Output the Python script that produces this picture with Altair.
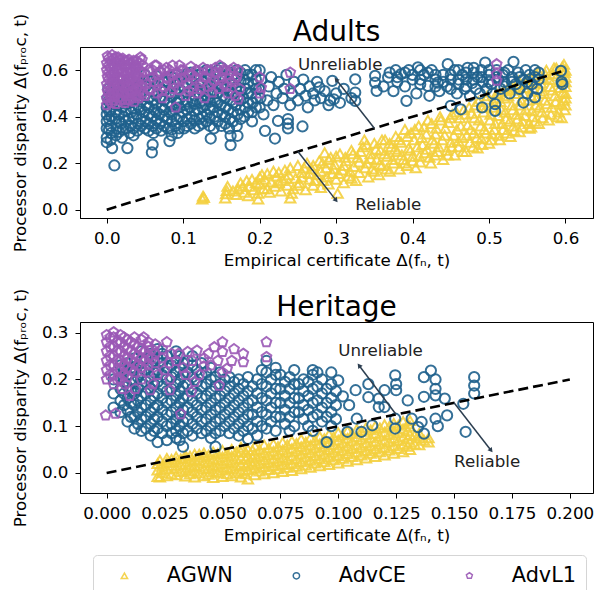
import math
import altair as alt
import pandas as pd

SERIES = ["AGWN", "AdvCE", "AdvL1"]
COLORS = ["#F4D03F", "#1F618D", "#9B59B6"]
PENTAGON = "M0,-1L0.951,-0.309L0.588,0.809L-0.588,0.809L-0.951,-0.309Z"
SHAPES = ["triangle-up", "circle", PENTAGON]

XTITLE = "Empirical certificate Δ(fₙ, t)"
YTITLE = "Processor disparity Δ(fₚᵣₒc, t)"

# ---------------- Adults ----------------
AD_AGWN = [
    (0.125, 0.045), (0.126, 0.058), (0.127, 0.052), (0.155, 0.05), (0.156, 0.068), (0.157, 0.082), (0.158, 0.1),
    (0.17, 0.065), (0.172, 0.09), (0.175, 0.115), (0.18, 0.075), (0.185, 0.06), (0.187, 0.1), (0.19, 0.13),
    (0.192, 0.085), (0.198, 0.046), (0.198, 0.07), (0.2, 0.11), (0.203, 0.15), (0.205, 0.09), (0.207, 0.13),
    (0.213, 0.075), (0.215, 0.12), (0.218, 0.165), (0.22, 0.1), (0.222, 0.145), (0.228, 0.08), (0.23, 0.125),
    (0.233, 0.17), (0.236, 0.105), (0.238, 0.15), (0.24, 0.05), (0.244, 0.09), (0.247, 0.135), (0.25, 0.19),
    (0.252, 0.115), (0.255, 0.16), (0.26, 0.085), (0.262, 0.2), (0.265, 0.13), (0.268, 0.175), (0.27, 0.105),
    (0.275, 0.15), (0.278, 0.21), (0.28, 0.095), (0.283, 0.125), (0.285, 0.245), (0.287, 0.18), (0.29, 0.11),
    (0.293, 0.225), (0.295, 0.155), (0.298, 0.195), (0.3, 0.13), (0.302, 0.07), (0.305, 0.24), (0.308, 0.17),
    (0.31, 0.115), (0.313, 0.21), (0.316, 0.145), (0.32, 0.255), (0.323, 0.185), (0.326, 0.125), (0.328, 0.225),
    (0.33, 0.16), (0.335, 0.27), (0.337, 0.3), (0.34, 0.2), (0.342, 0.14), (0.345, 0.24), (0.347, 0.175),
    (0.35, 0.285), (0.353, 0.215), (0.356, 0.15), (0.358, 0.255), (0.36, 0.19), (0.364, 0.3), (0.367, 0.23),
    (0.37, 0.165), (0.372, 0.27), (0.375, 0.2), (0.378, 0.315), (0.38, 0.25), (0.383, 0.175), (0.385, 0.29),
    (0.388, 0.215), (0.39, 0.345), (0.393, 0.19), (0.395, 0.265), (0.398, 0.33), (0.4, 0.23), (0.402, 0.3),
    (0.404, 0.18), (0.408, 0.36), (0.41, 0.205), (0.413, 0.28), (0.416, 0.245), (0.418, 0.325), (0.42, 0.385),
    (0.424, 0.2), (0.426, 0.3), (0.429, 0.235), (0.431, 0.35), (0.434, 0.27), (0.436, 0.4), (0.44, 0.215),
    (0.442, 0.32), (0.445, 0.255), (0.447, 0.375), (0.45, 0.29), (0.452, 0.41), (0.455, 0.235), (0.458, 0.345),
    (0.46, 0.27), (0.462, 0.395), (0.465, 0.31), (0.467, 0.43), (0.47, 0.25), (0.472, 0.365), (0.475, 0.29),
    (0.477, 0.415), (0.48, 0.33), (0.482, 0.45), (0.485, 0.265), (0.487, 0.385), (0.49, 0.305), (0.492, 0.44),
    (0.494, 0.345), (0.496, 0.475), (0.5, 0.285), (0.502, 0.41), (0.504, 0.325), (0.506, 0.46), (0.508, 0.37),
    (0.51, 0.5), (0.514, 0.3), (0.516, 0.43), (0.518, 0.345), (0.52, 0.48), (0.522, 0.39), (0.524, 0.52),
    (0.528, 0.315), (0.53, 0.45), (0.532, 0.36), (0.534, 0.5), (0.536, 0.41), (0.538, 0.54), (0.54, 0.335),
    (0.542, 0.47), (0.544, 0.38), (0.546, 0.525), (0.548, 0.43), (0.55, 0.56), (0.553, 0.35), (0.555, 0.49),
    (0.557, 0.4), (0.559, 0.545), (0.561, 0.45), (0.563, 0.58), (0.565, 0.37), (0.567, 0.51), (0.569, 0.42),
    (0.571, 0.565), (0.573, 0.47), (0.575, 0.6), (0.578, 0.385), (0.58, 0.53), (0.582, 0.44), (0.584, 0.585),
    (0.586, 0.49), (0.588, 0.61), (0.59, 0.4), (0.592, 0.55), (0.594, 0.455), (0.595, 0.6), (0.597, 0.505),
    (0.598, 0.625), (0.599, 0.43), (0.6, 0.57), (0.6, 0.48), (0.6, 0.53), (0.555, 0.355), (0.595, 0.395),
    (0.165, 0.08), (0.178, 0.1), (0.183, 0.125), (0.195, 0.115), (0.2, 0.14), (0.21, 0.09), (0.21, 0.155),
    (0.225, 0.115), (0.225, 0.16), (0.235, 0.135), (0.24, 0.18), (0.242, 0.07), (0.25, 0.105), (0.255, 0.14),
    (0.258, 0.18), (0.265, 0.155), (0.27, 0.19), (0.272, 0.125), (0.28, 0.165), (0.282, 0.2), (0.288, 0.14),
    (0.29, 0.215), (0.297, 0.175), (0.3, 0.23), (0.303, 0.155), (0.31, 0.19), (0.312, 0.225), (0.318, 0.165),
    (0.32, 0.135), (0.322, 0.24), (0.33, 0.205), (0.332, 0.25), (0.338, 0.18), (0.34, 0.28), (0.345, 0.22),
    (0.35, 0.165), (0.352, 0.26), (0.357, 0.195), (0.36, 0.3), (0.363, 0.24), (0.366, 0.175), (0.37, 0.285),
    (0.374, 0.215), (0.377, 0.26), (0.382, 0.3), (0.386, 0.235), (0.39, 0.2), (0.393, 0.315), (0.397, 0.255),
    (0.4, 0.21), (0.403, 0.345), (0.406, 0.27), (0.409, 0.23), (0.412, 0.31), (0.415, 0.355), (0.419, 0.26),
    (0.422, 0.225), (0.425, 0.37), (0.428, 0.285), (0.43, 0.325), (0.433, 0.25), (0.437, 0.385), (0.439, 0.3),
    (0.443, 0.35), (0.446, 0.235), (0.449, 0.395), (0.451, 0.27), (0.454, 0.32), (0.457, 0.42), (0.46, 0.295),
    (0.463, 0.36), (0.466, 0.25), (0.469, 0.41), (0.471, 0.32), (0.474, 0.44), (0.476, 0.345), (0.479, 0.27),
    (0.481, 0.395), (0.484, 0.31), (0.486, 0.465), (0.489, 0.36), (0.491, 0.28), (0.493, 0.42), (0.496, 0.33),
    (0.498, 0.49), (0.501, 0.385), (0.503, 0.3), (0.505, 0.44), (0.507, 0.345), (0.509, 0.48), (0.512, 0.405),
    (0.513, 0.32), (0.515, 0.465), (0.517, 0.37), (0.519, 0.51), (0.521, 0.42), (0.523, 0.33), (0.525, 0.49),
    (0.527, 0.38), (0.529, 0.53), (0.531, 0.43), (0.533, 0.34), (0.535, 0.515), (0.537, 0.39), (0.539, 0.555),
    (0.541, 0.45), (0.543, 0.355), (0.545, 0.5), (0.547, 0.405), (0.549, 0.54), (0.551, 0.47), (0.552, 0.37),
    (0.554, 0.57), (0.556, 0.425), (0.558, 0.52), (0.56, 0.38), (0.562, 0.475), (0.564, 0.595), (0.566, 0.44),
    (0.568, 0.545), (0.57, 0.395), (0.572, 0.5), (0.574, 0.58), (0.576, 0.455), (0.579, 0.56), (0.581, 0.41),
    (0.583, 0.515), (0.585, 0.61), (0.587, 0.465), (0.589, 0.575), (0.591, 0.42), (0.593, 0.525),
    (0.596, 0.615), (0.598, 0.47), (0.599, 0.59), (0.6, 0.45), (0.6, 0.5), (0.6, 0.55), (0.6, 0.6),
]

AD_ADVCE = [
    (0.0, 0.29), (0.0, 0.31), (0.0, 0.35), (0.0, 0.38), (0.0, 0.41), (0.0, 0.44), (0.001, 0.48), (0.002, 0.52),
    (0.005, 0.3), (0.006, 0.33), (0.005, 0.36), (0.006, 0.4), (0.005, 0.43), (0.004, 0.46), (0.005, 0.5),
    (0.01, 0.19), (0.007, 0.265), (0.012, 0.32), (0.013, 0.35), (0.011, 0.39), (0.012, 0.42), (0.014, 0.45),
    (0.013, 0.49), (0.012, 0.53), (0.02, 0.31), (0.021, 0.345), (0.019, 0.37), (0.022, 0.4), (0.02, 0.44),
    (0.021, 0.47), (0.02, 0.52), (0.027, 0.265), (0.03, 0.33), (0.031, 0.36), (0.029, 0.39), (0.032, 0.42),
    (0.03, 0.46), (0.031, 0.5), (0.03, 0.55), (0.04, 0.34), (0.041, 0.37), (0.039, 0.41), (0.042, 0.44),
    (0.04, 0.48), (0.041, 0.52), (0.04, 0.57), (0.05, 0.35), (0.051, 0.38), (0.049, 0.42), (0.052, 0.45),
    (0.05, 0.49), (0.051, 0.53), (0.05, 0.58), (0.06, 0.36), (0.061, 0.33), (0.059, 0.4), (0.062, 0.43),
    (0.06, 0.47), (0.061, 0.51), (0.06, 0.56), (0.059, 0.246), (0.06, 0.28), (0.07, 0.37), (0.071, 0.34),
    (0.069, 0.41), (0.072, 0.44), (0.07, 0.48), (0.071, 0.52), (0.07, 0.59), (0.08, 0.35), (0.082, 0.295),
    (0.079, 0.39), (0.082, 0.42), (0.08, 0.46), (0.081, 0.5), (0.08, 0.55), (0.085, 0.32), (0.09, 0.36),
    (0.091, 0.39), (0.089, 0.43), (0.092, 0.46), (0.09, 0.5), (0.091, 0.54), (0.09, 0.58), (0.093, 0.33),
    (0.1, 0.38), (0.101, 0.35), (0.099, 0.42), (0.102, 0.45), (0.1, 0.49), (0.101, 0.53), (0.1, 0.57),
    (0.11, 0.37), (0.111, 0.4), (0.109, 0.44), (0.112, 0.47), (0.11, 0.51), (0.111, 0.55), (0.11, 0.59),
    (0.12, 0.36), (0.121, 0.39), (0.119, 0.43), (0.122, 0.46), (0.12, 0.5), (0.121, 0.54), (0.12, 0.58),
    (0.13, 0.38), (0.131, 0.41), (0.129, 0.45), (0.132, 0.48), (0.13, 0.52), (0.131, 0.56), (0.13, 0.6),
    (0.136, 0.306), (0.14, 0.35), (0.141, 0.4), (0.139, 0.44), (0.142, 0.47), (0.14, 0.51), (0.141, 0.55),
    (0.14, 0.59), (0.15, 0.36), (0.151, 0.41), (0.149, 0.45), (0.152, 0.49), (0.15, 0.53), (0.151, 0.57),
    (0.15, 0.61), (0.162, 0.278), (0.162, 0.318), (0.16, 0.35), (0.161, 0.39), (0.159, 0.43), (0.162, 0.47),
    (0.16, 0.51), (0.161, 0.55), (0.16, 0.59), (0.171, 0.318), (0.17, 0.36), (0.171, 0.41), (0.169, 0.45),
    (0.172, 0.49), (0.17, 0.53), (0.171, 0.57), (0.17, 0.6), (0.18, 0.4), (0.181, 0.44), (0.179, 0.48),
    (0.182, 0.52), (0.18, 0.56), (0.181, 0.6), (0.19, 0.42), (0.191, 0.46), (0.189, 0.5), (0.192, 0.54),
    (0.19, 0.58), (0.19, 0.38), (0.2, 0.44), (0.201, 0.48), (0.199, 0.52), (0.202, 0.56), (0.2, 0.6),
    (0.003, 0.345), (0.003, 0.39), (0.003, 0.425), (0.003, 0.47), (0.016, 0.335), (0.016, 0.38),
    (0.016, 0.41), (0.016, 0.46), (0.016, 0.5), (0.025, 0.35), (0.025, 0.38), (0.025, 0.425), (0.025, 0.455),
    (0.025, 0.49), (0.025, 0.54), (0.035, 0.32), (0.035, 0.35), (0.035, 0.395), (0.035, 0.435), (0.035, 0.47),
    (0.035, 0.515), (0.045, 0.36), (0.045, 0.39), (0.045, 0.43), (0.045, 0.465), (0.045, 0.5), (0.045, 0.545),
    (0.055, 0.34), (0.055, 0.37), (0.055, 0.41), (0.055, 0.44), (0.055, 0.48), (0.055, 0.515), (0.055, 0.555),
    (0.065, 0.35), (0.065, 0.385), (0.065, 0.42), (0.065, 0.455), (0.065, 0.49), (0.065, 0.535),
    (0.065, 0.575), (0.075, 0.36), (0.075, 0.4), (0.075, 0.43), (0.075, 0.47), (0.075, 0.51), (0.075, 0.55),
    (0.085, 0.345), (0.085, 0.38), (0.085, 0.41), (0.085, 0.445), (0.085, 0.485), (0.085, 0.525),
    (0.085, 0.57), (0.095, 0.35), (0.095, 0.4), (0.095, 0.44), (0.095, 0.475), (0.095, 0.52), (0.095, 0.56),
    (0.105, 0.36), (0.105, 0.39), (0.105, 0.43), (0.105, 0.465), (0.105, 0.505), (0.105, 0.545),
    (0.105, 0.585), (0.115, 0.35), (0.115, 0.385), (0.115, 0.425), (0.115, 0.455), (0.115, 0.49),
    (0.115, 0.53), (0.115, 0.57), (0.125, 0.37), (0.125, 0.4), (0.125, 0.44), (0.125, 0.47), (0.125, 0.51),
    (0.125, 0.55), (0.125, 0.59), (0.135, 0.36), (0.135, 0.395), (0.135, 0.43), (0.135, 0.465), (0.135, 0.5),
    (0.135, 0.54), (0.135, 0.58), (0.145, 0.38), (0.145, 0.42), (0.145, 0.46), (0.145, 0.5), (0.145, 0.54),
    (0.145, 0.6), (0.155, 0.37), (0.155, 0.4), (0.155, 0.44), (0.155, 0.48), (0.155, 0.52), (0.155, 0.56),
    (0.165, 0.38), (0.165, 0.42), (0.165, 0.46), (0.165, 0.5), (0.165, 0.54), (0.165, 0.58), (0.175, 0.39),
    (0.175, 0.43), (0.175, 0.47), (0.175, 0.51), (0.175, 0.55), (0.175, 0.59), (0.185, 0.42), (0.185, 0.46),
    (0.185, 0.5), (0.185, 0.545), (0.185, 0.58), (0.195, 0.44), (0.195, 0.48), (0.195, 0.52), (0.195, 0.56),
    (0.195, 0.6),
    (0.207, 0.339), (0.205, 0.41), (0.21, 0.47), (0.212, 0.53), (0.215, 0.57), (0.22, 0.306), (0.218, 0.45),
    (0.222, 0.5), (0.225, 0.55), (0.224, 0.382), (0.23, 0.48), (0.232, 0.52), (0.235, 0.58), (0.237, 0.39),
    (0.237, 0.37), (0.237, 0.35), (0.24, 0.45), (0.242, 0.5), (0.245, 0.55), (0.25, 0.47), (0.253, 0.52),
    (0.256, 0.358), (0.257, 0.56), (0.26, 0.49), (0.263, 0.44), (0.265, 0.53), (0.27, 0.5), (0.272, 0.47),
    (0.275, 0.55), (0.278, 0.526), (0.28, 0.48), (0.285, 0.51), (0.29, 0.45), (0.292, 0.47), (0.295, 0.554),
    (0.297, 0.475), (0.3, 0.5), (0.305, 0.46), (0.31, 0.52), (0.32, 0.48), (0.325, 0.561), (0.325, 0.504),
    (0.325, 0.468), (0.351, 0.576), (0.351, 0.547), (0.353, 0.511), (0.362, 0.53), (0.368, 0.569),
    (0.37, 0.59), (0.375, 0.51), (0.378, 0.6), (0.38, 0.55), (0.385, 0.583), (0.39, 0.53), (0.392, 0.468),
    (0.395, 0.6), (0.4, 0.56), (0.405, 0.5), (0.407, 0.612), (0.41, 0.54), (0.415, 0.58), (0.42, 0.533),
    (0.422, 0.49), (0.425, 0.6), (0.43, 0.56), (0.433, 0.547), (0.435, 0.51), (0.44, 0.58), (0.446, 0.626),
    (0.445, 0.53), (0.45, 0.447), (0.45, 0.56), (0.455, 0.6), (0.458, 0.5), (0.46, 0.54), (0.463, 0.432),
    (0.465, 0.58), (0.468, 0.52), (0.47, 0.56), (0.472, 0.61), (0.475, 0.49), (0.478, 0.545), (0.48, 0.59),
    (0.483, 0.52), (0.485, 0.57), (0.488, 0.5), (0.49, 0.6), (0.491, 0.44), (0.492, 0.55), (0.495, 0.633),
    (0.497, 0.52), (0.5, 0.58), (0.503, 0.54), (0.505, 0.5), (0.508, 0.454), (0.508, 0.425), (0.51, 0.6),
    (0.512, 0.56), (0.515, 0.52), (0.518, 0.58), (0.52, 0.55), (0.525, 0.6), (0.527, 0.5), (0.53, 0.57),
    (0.532, 0.636), (0.535, 0.54), (0.538, 0.59), (0.54, 0.52), (0.545, 0.461), (0.545, 0.56), (0.548, 0.6),
    (0.55, 0.5), (0.553, 0.58), (0.556, 0.54), (0.56, 0.483), (0.56, 0.6), (0.563, 0.52), (0.565, 0.56),
    (0.594, 0.597), (0.595, 0.55), (0.596, 0.54),
    (0.38, 0.57), (0.39, 0.59), (0.4, 0.58), (0.41, 0.56), (0.42, 0.59), (0.43, 0.58), (0.44, 0.55),
    (0.45, 0.58), (0.46, 0.56), (0.47, 0.53), (0.48, 0.56), (0.49, 0.57), (0.5, 0.55), (0.51, 0.57),
    (0.52, 0.59), (0.53, 0.55), (0.54, 0.57), (0.55, 0.55), (0.56, 0.57), (0.565, 0.59), (0.47, 0.59),
    (0.45, 0.52), (0.43, 0.53), (0.41, 0.6), (0.5, 0.6), (0.52, 0.53), (0.48, 0.61), (0.46, 0.6),
]

AD_ADVL1 = [
    (0.0, 0.45), (0.0, 0.48), (0.001, 0.51), (0.0, 0.54), (0.001, 0.57), (0.0, 0.6), (0.0, 0.63), (0.001, 0.66),
    (0.006, 0.46), (0.005, 0.49), (0.006, 0.52), (0.007, 0.55), (0.006, 0.58), (0.005, 0.61), (0.006, 0.64),
    (0.007, 0.665), (0.012, 0.455), (0.011, 0.485), (0.013, 0.515), (0.012, 0.545), (0.011, 0.575),
    (0.013, 0.605), (0.012, 0.635), (0.012, 0.655), (0.018, 0.47), (0.019, 0.5), (0.017, 0.53), (0.018, 0.56),
    (0.019, 0.59), (0.018, 0.62), (0.017, 0.645), (0.024, 0.46), (0.025, 0.49), (0.023, 0.52), (0.024, 0.55),
    (0.025, 0.58), (0.024, 0.61), (0.023, 0.64), (0.03, 0.475), (0.031, 0.505), (0.029, 0.535), (0.03, 0.565),
    (0.031, 0.595), (0.03, 0.625), (0.029, 0.645), (0.036, 0.465), (0.037, 0.495), (0.035, 0.525),
    (0.036, 0.555), (0.037, 0.585), (0.036, 0.615), (0.035, 0.64), (0.042, 0.48), (0.043, 0.51), (0.041, 0.54),
    (0.042, 0.57), (0.043, 0.6), (0.042, 0.63), (0.044, 0.655), (0.047, 0.5), (0.046, 0.53), (0.047, 0.56),
    (0.046, 0.59), (0.047, 0.62), (0.046, 0.645),
    (0.003, 0.47), (0.003, 0.5), (0.003, 0.53), (0.003, 0.56), (0.003, 0.59), (0.003, 0.62), (0.003, 0.65),
    (0.009, 0.47), (0.009, 0.5), (0.009, 0.53), (0.009, 0.56), (0.009, 0.59), (0.009, 0.62), (0.009, 0.65),
    (0.015, 0.48), (0.015, 0.51), (0.015, 0.54), (0.015, 0.57), (0.015, 0.6), (0.015, 0.63), (0.015, 0.655),
    (0.021, 0.475), (0.021, 0.505), (0.021, 0.535), (0.021, 0.565), (0.021, 0.595), (0.021, 0.625),
    (0.021, 0.65), (0.027, 0.47), (0.027, 0.5), (0.027, 0.53), (0.027, 0.56), (0.027, 0.59), (0.027, 0.62),
    (0.027, 0.64), (0.033, 0.48), (0.033, 0.51), (0.033, 0.54), (0.033, 0.57), (0.033, 0.6), (0.033, 0.63),
    (0.039, 0.49), (0.039, 0.52), (0.039, 0.55), (0.039, 0.58), (0.039, 0.61), (0.039, 0.64),
    (0.05, 0.49), (0.052, 0.54), (0.055, 0.6), (0.058, 0.515), (0.06, 0.57), (0.063, 0.62), (0.066, 0.5),
    (0.068, 0.55), (0.07, 0.595), (0.073, 0.48), (0.075, 0.53), (0.078, 0.61), (0.08, 0.565), (0.083, 0.505),
    (0.086, 0.62), (0.088, 0.545), (0.09, 0.44), (0.092, 0.59), (0.095, 0.515), (0.098, 0.56), (0.1, 0.6),
    (0.103, 0.49), (0.105, 0.54), (0.108, 0.58), (0.11, 0.615), (0.113, 0.52), (0.116, 0.565), (0.118, 0.5),
    (0.12, 0.595), (0.123, 0.545), (0.126, 0.61), (0.128, 0.48), (0.13, 0.57), (0.133, 0.53), (0.136, 0.6),
    (0.138, 0.505), (0.14, 0.555), (0.143, 0.59), (0.146, 0.52), (0.148, 0.62), (0.15, 0.57), (0.153, 0.54),
    (0.156, 0.6), (0.158, 0.5), (0.16, 0.58), (0.163, 0.55), (0.166, 0.61), (0.168, 0.49), (0.17, 0.57),
    (0.172, 0.6), (0.174, 0.52), (0.172, 0.475),
    (0.055, 0.52), (0.062, 0.55), (0.067, 0.58), (0.072, 0.51), (0.077, 0.57), (0.082, 0.6), (0.087, 0.52),
    (0.093, 0.56), (0.097, 0.6), (0.102, 0.57), (0.107, 0.51), (0.112, 0.58), (0.117, 0.6), (0.122, 0.52),
    (0.127, 0.57), (0.132, 0.6), (0.137, 0.54), (0.142, 0.61), (0.147, 0.56), (0.152, 0.6), (0.157, 0.53),
    (0.162, 0.6), (0.167, 0.56), (0.06, 0.6), (0.065, 0.62), (0.075, 0.6), (0.085, 0.58), (0.095, 0.62),
    (0.2, 0.5), (0.202, 0.525), (0.2, 0.57), (0.24, 0.52), (0.24, 0.59), (0.51, 0.555), (0.51, 0.583), (0.51, 0.626),
]

# ---------------- Heritage ----------------
HE_AGWN = [
    (0.022, -0.008), (0.022, 0.006), (0.022, 0.02), (0.023, -0.009), (0.023, 0.027), (0.026, -0.006),
    (0.026, 0.008), (0.026, 0.022), (0.026, 0.031), (0.03, -0.004), (0.03, 0.01), (0.03, 0.024), (0.03, 0.034),
    (0.034, -0.007), (0.034, 0.006), (0.034, 0.019), (0.034, 0.032), (0.034, 0.038), (0.038, -0.009),
    (0.038, 0.004), (0.038, 0.016), (0.038, 0.028), (0.038, 0.04), (0.042, -0.006), (0.042, 0.008),
    (0.042, 0.021), (0.042, 0.034), (0.042, 0.043), (0.046, -0.01), (0.046, 0.003), (0.046, 0.016),
    (0.046, 0.03), (0.046, 0.045), (0.05, -0.008), (0.05, 0.006), (0.05, 0.02), (0.05, 0.034), (0.05, 0.048),
    (0.054, -0.006), (0.054, 0.008), (0.054, 0.022), (0.054, 0.036), (0.054, 0.05), (0.058, -0.009),
    (0.058, 0.004), (0.058, 0.018), (0.058, 0.031), (0.058, 0.045), (0.058, 0.055), (0.061, -0.013),
    (0.061, 0.007), (0.061, 0.021), (0.061, 0.036), (0.061, 0.05), (0.064, -0.004), (0.064, 0.01),
    (0.064, 0.025), (0.064, 0.04), (0.064, 0.057), (0.068, -0.002), (0.068, 0.013), (0.068, 0.028),
    (0.068, 0.043), (0.068, 0.06), (0.072, 0.0), (0.072, 0.015), (0.072, 0.03), (0.072, 0.046), (0.072, 0.062),
    (0.076, 0.003), (0.076, 0.018), (0.076, 0.033), (0.076, 0.049), (0.076, 0.065), (0.08, 0.005),
    (0.08, 0.02), (0.08, 0.036), (0.08, 0.052), (0.08, 0.068), (0.084, 0.009), (0.084, 0.024), (0.084, 0.04),
    (0.084, 0.056), (0.084, 0.072), (0.088, 0.012), (0.088, 0.027), (0.088, 0.043), (0.088, 0.059),
    (0.088, 0.075), (0.092, 0.015), (0.092, 0.03), (0.092, 0.046), (0.092, 0.062), (0.092, 0.078),
    (0.096, 0.018), (0.096, 0.034), (0.096, 0.05), (0.096, 0.066), (0.096, 0.082), (0.1, 0.021), (0.1, 0.037),
    (0.1, 0.053), (0.1, 0.07), (0.1, 0.086), (0.104, 0.025), (0.104, 0.041), (0.104, 0.057), (0.104, 0.074),
    (0.104, 0.09), (0.108, 0.028), (0.108, 0.044), (0.108, 0.06), (0.108, 0.077), (0.108, 0.093),
    (0.112, 0.032), (0.112, 0.048), (0.112, 0.064), (0.112, 0.081), (0.112, 0.097), (0.116, 0.035),
    (0.116, 0.051), (0.116, 0.067), (0.116, 0.084), (0.116, 0.1), (0.12, 0.038), (0.12, 0.054), (0.12, 0.07),
    (0.12, 0.087), (0.12, 0.103), (0.124, 0.042), (0.124, 0.058), (0.124, 0.074), (0.124, 0.09),
    (0.124, 0.106), (0.128, 0.045), (0.128, 0.061), (0.128, 0.077), (0.128, 0.094), (0.128, 0.11),
    (0.131, 0.05), (0.131, 0.066), (0.131, 0.082), (0.131, 0.1), (0.131, 0.112), (0.135, 0.06), (0.135, 0.075),
    (0.135, 0.085), (0.139, 0.066), (0.139, 0.075),
    (0.024, 0.0), (0.024, 0.014), (0.028, -0.002), (0.028, 0.016), (0.028, 0.029), (0.032, 0.003),
    (0.032, 0.017), (0.032, 0.03), (0.036, -0.002), (0.036, 0.012), (0.036, 0.025), (0.036, 0.036),
    (0.04, 0.0), (0.04, 0.014), (0.04, 0.027), (0.04, 0.04), (0.044, -0.003), (0.044, 0.01), (0.044, 0.024),
    (0.044, 0.038), (0.048, 0.0), (0.048, 0.013), (0.048, 0.027), (0.048, 0.041), (0.052, -0.002),
    (0.052, 0.012), (0.052, 0.027), (0.052, 0.042), (0.056, 0.0), (0.056, 0.015), (0.056, 0.029),
    (0.056, 0.045), (0.06, -0.002), (0.06, 0.014), (0.06, 0.029), (0.06, 0.044), (0.063, 0.017),
    (0.063, 0.032), (0.063, 0.048), (0.066, 0.004), (0.066, 0.02), (0.066, 0.035), (0.066, 0.05),
    (0.07, 0.007), (0.07, 0.022), (0.07, 0.038), (0.07, 0.053), (0.074, 0.009), (0.074, 0.025), (0.074, 0.04),
    (0.074, 0.056), (0.078, 0.012), (0.078, 0.028), (0.078, 0.044), (0.078, 0.06), (0.082, 0.014),
    (0.082, 0.03), (0.082, 0.047), (0.082, 0.063), (0.086, 0.017), (0.086, 0.034), (0.086, 0.05),
    (0.086, 0.066), (0.09, 0.021), (0.09, 0.037), (0.09, 0.053), (0.09, 0.07), (0.094, 0.024), (0.094, 0.04),
    (0.094, 0.056), (0.094, 0.073), (0.098, 0.028), (0.098, 0.044), (0.098, 0.06), (0.098, 0.077),
    (0.102, 0.031), (0.102, 0.048), (0.102, 0.064), (0.102, 0.081), (0.106, 0.035), (0.106, 0.052),
    (0.106, 0.068), (0.106, 0.084), (0.11, 0.038), (0.11, 0.055), (0.11, 0.072), (0.11, 0.089),
    (0.114, 0.042), (0.114, 0.058), (0.114, 0.075), (0.114, 0.092), (0.118, 0.045), (0.118, 0.062),
    (0.118, 0.079), (0.118, 0.096), (0.122, 0.049), (0.122, 0.066), (0.122, 0.082), (0.122, 0.099),
    (0.126, 0.052), (0.126, 0.069), (0.126, 0.086), (0.126, 0.102), (0.13, 0.057), (0.13, 0.073),
    (0.13, 0.09), (0.13, 0.105), (0.133, 0.062), (0.133, 0.08), (0.137, 0.07),
]

HE_ADVCE = [
    (0.003, 0.14), (0.003, 0.17), (0.003, 0.2), (0.006, 0.13), (0.006, 0.155), (0.006, 0.18), (0.006, 0.205),
    (0.006, 0.23), (0.009, 0.11), (0.009, 0.135), (0.009, 0.16), (0.009, 0.185), (0.009, 0.21), (0.009, 0.235),
    (0.012, 0.095), (0.012, 0.12), (0.012, 0.145), (0.012, 0.17), (0.012, 0.195), (0.012, 0.22),
    (0.012, 0.245), (0.015, 0.09), (0.015, 0.115), (0.015, 0.14), (0.015, 0.165), (0.015, 0.19),
    (0.015, 0.215), (0.015, 0.24), (0.015, 0.26), (0.019, 0.08), (0.019, 0.105), (0.019, 0.13), (0.019, 0.155),
    (0.019, 0.18), (0.019, 0.205), (0.019, 0.23), (0.019, 0.255), (0.022, 0.066), (0.022, 0.095),
    (0.022, 0.12), (0.022, 0.145), (0.022, 0.17), (0.022, 0.195), (0.022, 0.22), (0.022, 0.245),
    (0.022, 0.265), (0.026, 0.07), (0.026, 0.1), (0.026, 0.125), (0.026, 0.15), (0.026, 0.175), (0.026, 0.2),
    (0.026, 0.225), (0.026, 0.25), (0.03, 0.075), (0.03, 0.09), (0.03, 0.115), (0.03, 0.14), (0.03, 0.165),
    (0.03, 0.19), (0.03, 0.215), (0.03, 0.24), (0.03, 0.26), (0.033, 0.056), (0.033, 0.085), (0.033, 0.11),
    (0.033, 0.135), (0.033, 0.16), (0.033, 0.185), (0.033, 0.21), (0.033, 0.235), (0.037, 0.08),
    (0.037, 0.105), (0.037, 0.13), (0.037, 0.155), (0.037, 0.18), (0.037, 0.205), (0.037, 0.23), (0.037, 0.25),
    (0.041, 0.085), (0.041, 0.11), (0.041, 0.135), (0.041, 0.16), (0.041, 0.185), (0.041, 0.21),
    (0.041, 0.235), (0.045, 0.075), (0.045, 0.1), (0.045, 0.125), (0.045, 0.15), (0.045, 0.175), (0.045, 0.2),
    (0.045, 0.225), (0.047, 0.056), (0.049, 0.09), (0.049, 0.115), (0.049, 0.14), (0.049, 0.165),
    (0.049, 0.19), (0.049, 0.215), (0.053, 0.085), (0.053, 0.11), (0.053, 0.135), (0.053, 0.16),
    (0.053, 0.185), (0.053, 0.205), (0.057, 0.08), (0.057, 0.105), (0.057, 0.13), (0.057, 0.155),
    (0.057, 0.18), (0.057, 0.2), (0.061, 0.073), (0.061, 0.1), (0.061, 0.125), (0.061, 0.15), (0.061, 0.175),
    (0.061, 0.205), (0.065, 0.08), (0.065, 0.11), (0.065, 0.14), (0.065, 0.17), (0.065, 0.2), (0.069, 0.095),
    (0.069, 0.125), (0.069, 0.155), (0.069, 0.185), (0.069, 0.215), (0.069, 0.24), (0.073, 0.09),
    (0.073, 0.12), (0.073, 0.15), (0.073, 0.18), (0.073, 0.21), (0.073, 0.225), (0.077, 0.105),
    (0.077, 0.135), (0.077, 0.165), (0.077, 0.195), (0.081, 0.1), (0.081, 0.13), (0.081, 0.16), (0.081, 0.19),
    (0.081, 0.22), (0.085, 0.115), (0.085, 0.145), (0.085, 0.175), (0.085, 0.2), (0.089, 0.09), (0.089, 0.12),
    (0.089, 0.15), (0.089, 0.18), (0.089, 0.21), (0.089, 0.22), (0.093, 0.11), (0.093, 0.14), (0.093, 0.17),
    (0.093, 0.2), (0.095, 0.066), (0.097, 0.1), (0.097, 0.13), (0.097, 0.16), (0.097, 0.19), (0.097, 0.215),
    (0.0075, 0.145), (0.0075, 0.17), (0.0075, 0.195), (0.0075, 0.22), (0.0105, 0.12), (0.0105, 0.15),
    (0.0105, 0.175), (0.0105, 0.2), (0.0105, 0.225), (0.0135, 0.105), (0.0135, 0.13), (0.0135, 0.155),
    (0.0135, 0.18), (0.0135, 0.205), (0.0135, 0.23), (0.017, 0.095), (0.017, 0.12), (0.017, 0.145),
    (0.017, 0.17), (0.017, 0.195), (0.017, 0.22), (0.017, 0.245), (0.0205, 0.09), (0.0205, 0.115),
    (0.0205, 0.14), (0.0205, 0.165), (0.0205, 0.19), (0.0205, 0.215), (0.0205, 0.24), (0.024, 0.085),
    (0.024, 0.11), (0.024, 0.135), (0.024, 0.16), (0.024, 0.185), (0.024, 0.21), (0.024, 0.235),
    (0.024, 0.255), (0.028, 0.085), (0.028, 0.105), (0.028, 0.13), (0.028, 0.155), (0.028, 0.18),
    (0.028, 0.205), (0.028, 0.23), (0.0315, 0.07), (0.0315, 0.1), (0.0315, 0.125), (0.0315, 0.15),
    (0.0315, 0.175), (0.0315, 0.2), (0.0315, 0.225), (0.0315, 0.25), (0.035, 0.09), (0.035, 0.115),
    (0.035, 0.14), (0.035, 0.165), (0.035, 0.19), (0.035, 0.215), (0.035, 0.24), (0.039, 0.095),
    (0.039, 0.12), (0.039, 0.145), (0.039, 0.17), (0.039, 0.195), (0.039, 0.22), (0.043, 0.09),
    (0.043, 0.115), (0.043, 0.14), (0.043, 0.165), (0.043, 0.19), (0.043, 0.215), (0.047, 0.085),
    (0.047, 0.11), (0.047, 0.135), (0.047, 0.16), (0.047, 0.185), (0.047, 0.205), (0.051, 0.1),
    (0.051, 0.125), (0.051, 0.15), (0.051, 0.175), (0.051, 0.2), (0.055, 0.095), (0.055, 0.12),
    (0.055, 0.145), (0.055, 0.17), (0.055, 0.195), (0.059, 0.09), (0.059, 0.115), (0.059, 0.14),
    (0.059, 0.165), (0.059, 0.19), (0.063, 0.095), (0.063, 0.125), (0.063, 0.155), (0.063, 0.185),
    (0.067, 0.1), (0.067, 0.13), (0.067, 0.16), (0.067, 0.19), (0.067, 0.22), (0.071, 0.11), (0.071, 0.14),
    (0.071, 0.17), (0.071, 0.2), (0.075, 0.12), (0.075, 0.15), (0.075, 0.18), (0.075, 0.21), (0.079, 0.09),
    (0.079, 0.12), (0.079, 0.15), (0.079, 0.18), (0.079, 0.205), (0.083, 0.13), (0.083, 0.16), (0.083, 0.19),
    (0.087, 0.1), (0.087, 0.135), (0.087, 0.165), (0.087, 0.195), (0.091, 0.125), (0.091, 0.155),
    (0.091, 0.185), (0.091, 0.215), (0.095, 0.12), (0.095, 0.15), (0.095, 0.18), (0.099, 0.115),
    (0.099, 0.145), (0.099, 0.175),
    (0.1, 0.198), (0.102, 0.164), (0.1047, 0.145), (0.104, 0.088), (0.1075, 0.177), (0.108, 0.116),
    (0.11, 0.088), (0.113, 0.19), (0.113, 0.162), (0.1147, 0.102), (0.1175, 0.159), (0.1175, 0.141),
    (0.12, 0.177), (0.12, 0.141), (0.1246, 0.209), (0.125, 0.19), (0.125, 0.177), (0.1246, 0.116),
    (0.1246, 0.095), (0.13, 0.155), (0.1317, 0.116), (0.1345, 0.098), (0.136, 0.109), (0.137, 0.084),
    (0.137, 0.163), (0.137, 0.205), (0.14, 0.219), (0.142, 0.2), (0.142, 0.18), (0.142, 0.166),
    (0.142, 0.116), (0.143, 0.1), (0.146, 0.159), (0.147, 0.123), (0.154, 0.148), (0.155, 0.088),
    (0.1587, 0.205), (0.1587, 0.187), (0.1587, 0.17),
]

HE_ADVL1 = [
    (0.0, 0.2), (0.0, 0.22), (0.0, 0.24), (0.0, 0.26), (0.0, 0.28), (0.0, 0.295), (0.003, 0.19), (0.003, 0.21),
    (0.003, 0.23), (0.003, 0.25), (0.003, 0.27), (0.003, 0.29), (0.003, 0.301), (0.006, 0.2), (0.006, 0.22),
    (0.006, 0.24), (0.006, 0.26), (0.006, 0.28), (0.006, 0.295), (0.009, 0.205), (0.009, 0.225),
    (0.009, 0.245), (0.009, 0.265), (0.009, 0.285), (0.012, 0.215), (0.012, 0.235), (0.012, 0.255),
    (0.012, 0.275), (0.012, 0.29), (0.015, 0.225), (0.015, 0.245), (0.015, 0.265), (0.015, 0.285),
    (0.018, 0.23), (0.018, 0.25), (0.018, 0.27), (0.018, 0.28), (0.021, 0.235), (0.021, 0.255),
    (0.021, 0.275), (0.024, 0.245), (0.024, 0.265),
    (0.0015, 0.21), (0.0015, 0.23), (0.0015, 0.25), (0.0015, 0.27), (0.0015, 0.29), (0.0045, 0.2),
    (0.0045, 0.22), (0.0045, 0.24), (0.0045, 0.26), (0.0045, 0.28), (0.0075, 0.21), (0.0075, 0.23),
    (0.0075, 0.25), (0.0075, 0.27), (0.0075, 0.29), (0.0105, 0.22), (0.0105, 0.24), (0.0105, 0.26),
    (0.0105, 0.28), (0.0135, 0.23), (0.0135, 0.25), (0.0135, 0.27), (0.0165, 0.24), (0.0165, 0.26),
    (0.0195, 0.245), (0.0195, 0.265),
    (0.016, 0.29), (0.026, 0.28), (0.035, 0.259), (0.039, 0.262), (0.0465, 0.269), (0.05, 0.28),
    (0.05, 0.259), (0.069, 0.28), (0.069, 0.248), (0.059, 0.255), (0.059, 0.237), (0.052, 0.223),
    (0.05, 0.215), (0.0486, 0.187), (0.038, 0.195), (0.0365, 0.173), (0.0273, 0.177), (0.0273, 0.2),
    (0.0188, 0.177), (0.0124, 0.18), (0.0066, 0.18), (-0.0004, 0.123), (0.0038, 0.127), (0.03, 0.24),
    (0.033, 0.225), (0.042, 0.245), (0.045, 0.23), (0.028, 0.255), (0.022, 0.21), (0.015, 0.2),
    (0.008, 0.19), (0.01, 0.165), (0.02, 0.19), (0.04, 0.21), (0.032, 0.126),
    (0.027, 0.235), (0.031, 0.255), (0.037, 0.24), (0.044, 0.255), (0.048, 0.24), (0.055, 0.265),
    (0.025, 0.22), (0.034, 0.21), (0.042, 0.228), (0.018, 0.215), (0.054, 0.24),
]

AD_DIAG = [0.0, 0.6]
HE_DIAG = [0.0, 0.2]

AD_TEXT = [("Unreliable", 0.25, 0.6), ("Reliable", 0.325, 0.0)]
AD_ARROWS = [(0.35, 0.35, 0.3, 0.56), (0.25, 0.25, 0.3, 0.04)]
HE_TEXT = [("Unreliable", 0.1, 0.25), ("Reliable", 0.15, 0.012)]
HE_ARROWS = [(0.125, 0.125, 0.109, 0.23), (0.15, 0.15, 0.166, 0.048)]

FONT = "DejaVu Sans"
W, H = 513, 171
ARROW_COLOR = "#2C3E50"


def points_df(lists):
    rows = []
    for name, pts in zip(SERIES, lists):
        for x, y in pts:
            rows.append({"series": name, "x": x, "y": y})
    return pd.DataFrame(rows)


LEGEND = alt.Legend(
    title=None, orient="none", legendX=13, legendY=508, direction="horizontal",
    labelFont=FONT, labelFontSize=20.8, labelColor="black", symbolSize=40, symbolStrokeWidth=1.5,
    labelOffset=32, columnPadding=42, symbolOffset=11, padding=10, strokeColor="#d5d5d5",
    cornerRadius=4, fillColor="white",
)


def panel(title, lists, diag, texts, arrows, xdom, ydom, xticks, yticks, xfmt):
    xs = alt.Scale(domain=xdom, nice=False, zero=False)
    ys = alt.Scale(domain=ydom, nice=False, zero=False)
    xax = alt.Axis(values=xticks, format=xfmt, title=XTITLE, labelPadding=7, titlePadding=6)
    yax = alt.Axis(values=yticks, format=".1f", title=YTITLE, labelPadding=7, titlePadding=12)
    X = lambda f: alt.X(f, scale=xs, axis=xax)
    Y = lambda f: alt.Y(f, scale=ys, axis=yax)

    pts = alt.Chart(points_df(lists)).mark_point(
        filled=False, size=105, strokeWidth=2, opacity=0.9, clip=True
    ).encode(
        x=X("x:Q"), y=Y("y:Q"),
        color=alt.Color("series:N", scale=alt.Scale(domain=SERIES, range=COLORS), legend=LEGEND),
        shape=alt.Shape("series:N", scale=alt.Scale(domain=SERIES, range=SHAPES), legend=LEGEND),
    )
    line = alt.Chart(pd.DataFrame({"x": diag, "y": diag})).mark_line(
        color="black", strokeDash=[10, 5], strokeWidth=2.6
    ).encode(x=X("x:Q"), y=Y("y:Q"))

    pxx = W / (xdom[1] - xdom[0])
    pxy = H / (ydom[1] - ydom[0])
    arows = []
    for x0, y0, x1, y1 in arrows:
        dx = (x1 - x0) * pxx
        dy = -(y1 - y0) * pxy
        ang = (math.degrees(math.atan2(dx, -dy)) + 360) % 360
        arows.append({"x0": x0, "y0": y0, "x1": x1, "y1": y1, "ang": ang})
    adf = pd.DataFrame(arows)
    rule = alt.Chart(adf).mark_rule(color=ARROW_COLOR, strokeWidth=1.5).encode(
        x=X("x0:Q"), y=Y("y0:Q"), x2="x1:Q", y2="y1:Q"
    )
    head = alt.Chart(adf).mark_point(
        shape="triangle-up", filled=True, size=30, color=ARROW_COLOR, opacity=1
    ).encode(x=X("x1:Q"), y=Y("y1:Q"), angle=alt.Angle("ang:Q", scale=None))

    tdf = pd.DataFrame([{"label": t, "x": x, "y": y} for t, x, y in texts])
    txt = alt.Chart(tdf).mark_text(
        align="left", baseline="alphabetic", fontSize=16.7, font=FONT, color="#222222"
    ).encode(x=X("x:Q"), y=Y("y:Q"), text="label:N")

    return alt.layer(pts, line, rule, head, txt).properties(
        width=W, height=H,
        title=alt.TitleParams(title, fontSize=28, font=FONT, fontWeight="normal", color="black",
                              anchor="middle", baseline="alphabetic", offset=8, dy=64),
    )


top = panel("Adults", [AD_AGWN, AD_ADVCE, AD_ADVL1], AD_DIAG, AD_TEXT, AD_ARROWS,
            [-0.035, 0.636], [-0.036, 0.70], [0, 0.1, 0.2, 0.3, 0.4, 0.5, 0.6],
            [0, 0.2, 0.4, 0.6], ".1f")
bottom = panel("Heritage", [HE_AGWN, HE_ADVCE, HE_ADVL1], HE_DIAG, HE_TEXT, HE_ARROWS,
               [-0.0115, 0.210], [-0.043, 0.323],
               [0, 0.025, 0.05, 0.075, 0.1, 0.125, 0.15, 0.175, 0.2],
               [0, 0.1, 0.2, 0.3], ".3f")

chart = alt.vconcat(top, bottom, spacing=104, bounds="flush").properties(
    padding={"left": 3, "top": 4, "right": 0, "bottom": 0}
).configure_view(
    stroke="black", strokeWidth=1
).configure_axis(
    grid=False, domainColor="black", tickColor="black", labelColor="black", titleColor="black",
    labelFont=FONT, titleFont=FONT, labelFontSize=16.7, titleFontSize=16.7, titleFontWeight="normal",
    tickSize=5,
)

chart.save("out.html", embed_options={"renderer": "svg", "actions": False})
